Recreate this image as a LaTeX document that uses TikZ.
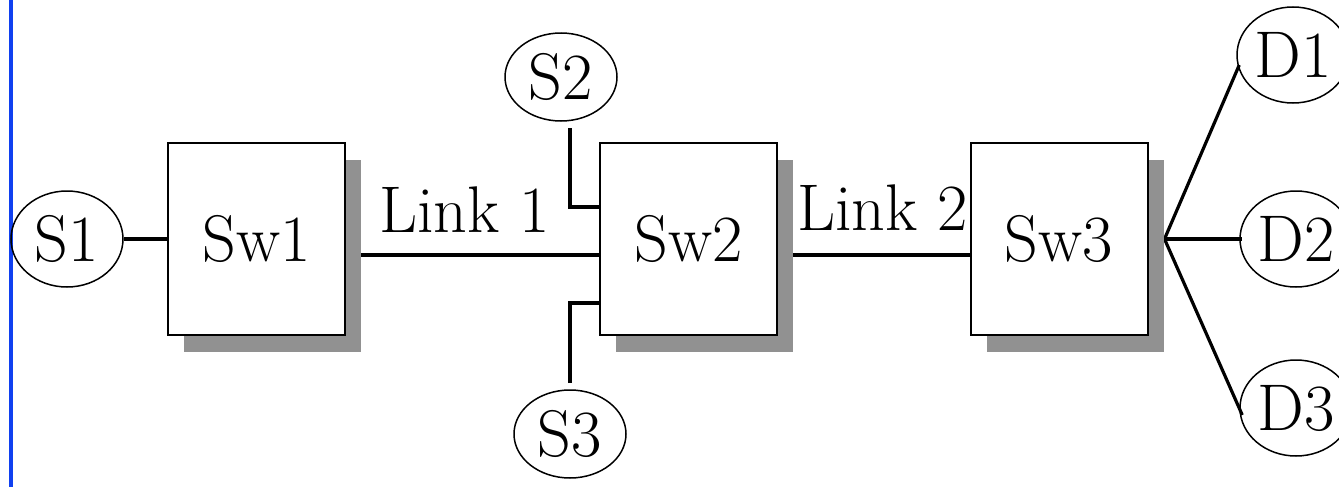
\documentclass[tikz,border=0pt]{standalone}
\usetikzlibrary{shadows,backgrounds,calc,shapes.geometric}
\definecolor{shadowgray}{RGB}{145,145,145}
\definecolor{edgeblue}{RGB}{16,64,240}
\tikzset{
  swbox/.style={draw=black, line width=1pt, fill=white, minimum width=88.5pt, minimum height=96pt, inner sep=0pt,
    font=\rmfamily\fontsize{33}{38}\selectfont,
    drop shadow={shadow xshift=8pt, shadow yshift=-8.5pt, opacity=1, fill=shadowgray, draw=none}},
  hostnode/.style={draw=black, line width=0.75pt, ellipse, minimum width=56pt, minimum height=46pt, inner sep=0pt,
    font=\rmfamily\fontsize{33}{38}\selectfont},
  conn/.style={draw=black, line width=1.6pt},
  linklabel/.style={anchor=base west, inner sep=0pt, font=\rmfamily\fontsize{33}{38}\selectfont}
}
\begin{document}
\begin{tikzpicture}[x=0.5pt, y=-0.5pt]
\useasboundingbox (0,0) rectangle (1339,487);
\draw[edgeblue, line width=2pt] (10.5,0) -- (10.5,487);

\node[swbox] (sw1) at (256.5,239) {Sw1};
\node[swbox] (sw2) at (688.5,239) {Sw2};
\node[swbox] (sw3) at (1059,239) {Sw3};

\node[hostnode, minimum height=48pt] (s1) at (67,239) {S1};
\node[hostnode, minimum height=44pt] (s2) at (561,77) {S2};
\node[hostnode, minimum height=44pt] (s3) at (570,434) {S3};
\node[hostnode, minimum height=48pt] (d1) at (1293,55) {D1};
\node[hostnode, minimum height=48pt] (d2) at (1296,239) {D2};
\node[hostnode, minimum height=48pt] (d3) at (1296,408) {D3};

\node[linklabel] (l1) at (379,232) {Link 1};
\node[linklabel] (l2) at (797,230) {Link 2};

\coordinate (s2end) at (570,128);
\coordinate (s3end) at (570,383);
\coordinate (fan) at ([xshift=8pt]sw3.east);

\begin{pgfonlayer}{background}
\draw[conn] (s1.east) -- (sw1.west);
\draw[conn] ([yshift=-8pt]sw1.east) -- ([yshift=-8pt]sw2.west);
\draw[conn] ([yshift=-8pt]sw2.east) -- ([yshift=-8pt]sw3.west);
\draw[conn] (s2end) |- ([yshift=16pt]sw2.west);
\draw[conn] (s3end) |- ([yshift=-32pt]sw2.west);
\draw[conn] (fan) -- ([xshift=1.5pt,yshift=-5pt]d1.west);
\draw[conn] (fan) -- ([xshift=1.5pt]d2.west);
\draw[conn] (fan) -- ([xshift=1.5pt,yshift=-3.5pt]d3.west);
\end{pgfonlayer}
\end{tikzpicture}
\end{document}
